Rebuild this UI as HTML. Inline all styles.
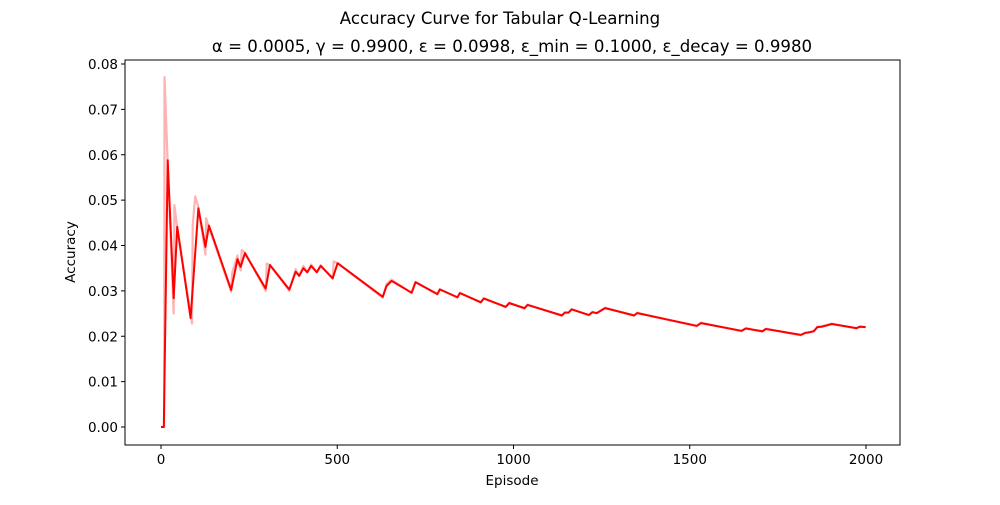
<!DOCTYPE html>
<html><head><meta charset="utf-8">
<style>
body{margin:0;background:#fff;}
svg text{font-family:"DejaVu Sans","Liberation Sans",sans-serif;fill:#000;}
</style></head>
<body>
<svg id="chart" width="1000" height="500" xmlns="http://www.w3.org/2000/svg">
<rect width="1000" height="500" fill="#fff"/>
<text x="500" y="24" font-size="16.6" text-anchor="middle">Accuracy Curve for Tabular Q-Learning</text>
<text x="512" y="52" font-size="16.6" text-anchor="middle">α = 0.0005, γ = 0.9900, ε = 0.0998, ε_min = 0.1000, ε_decay = 0.9980</text>
<g id="plot"></g>
<text x="512" y="485" font-size="13.5" text-anchor="middle">Episode</text>
<text transform="translate(75,252) rotate(-90)" font-size="13.5" text-anchor="middle">Accuracy</text>
</svg>
<script>
const smoothEpisodes=[0,8,19,36,46,84,106,126,136,199,217,226,238,297,309,364,382,392,404,415,426,442,453,487,501,629,640,654,711,722,784,791,841,848,907,916,978,988,1031,1040,1137,1146,1156,1165,1214,1224,1236,1260,1342,1351,1520,1532,1647,1659,1706,1716,1815,1827,1841,1852,1862,1874,1889,1903,1973,1983,1999];
const smoothValues=[0,0,0.0588,0.0284,0.0441,0.0240,0.0482,0.0397,0.0444,0.0302,0.0370,0.0353,0.0383,0.0305,0.0357,0.0303,0.0342,0.0333,0.0350,0.0341,0.0355,0.0341,0.0355,0.0328,0.0361,0.0287,0.0311,0.0322,0.0296,0.0319,0.0293,0.0303,0.0286,0.0295,0.0275,0.0283,0.0265,0.0273,0.0262,0.0269,0.0246,0.0252,0.0252,0.0259,0.0247,0.0253,0.0251,0.0262,0.0246,0.0251,0.0223,0.0229,0.0212,0.0217,0.0211,0.0216,0.0203,0.0207,0.0209,0.0211,0.0220,0.0221,0.0224,0.0227,0.0218,0.0221,0.0220];
const rawEpisodes=[0,9,10,19,36,38,46,88,90,97,106,126,128,136,199,202,217,220,226,229,238,297,300,309,364,382,392,404,415,426,442,453,487,490,501,629,640,654,711,722,784,791,841,848,907,916,978,988,1031,1040,1137,1146,1156,1165,1214,1224,1236,1260,1342,1351,1520,1532,1647,1659,1706,1716,1815,1827,1841,1852,1862,1874,1889,1903,1973,1983,1999];
const rawValues=[0,0,0.0771,0.0580,0.0250,0.0489,0.0440,0.0228,0.0445,0.0508,0.0485,0.0380,0.0460,0.0440,0.0298,0.0340,0.0378,0.0360,0.0345,0.0390,0.0385,0.0300,0.0360,0.0357,0.0300,0.0348,0.0333,0.0355,0.0341,0.0358,0.0341,0.0357,0.0326,0.0365,0.0361,0.0285,0.0315,0.0325,0.0295,0.0320,0.0292,0.0304,0.0285,0.0296,0.0274,0.0284,0.0264,0.0274,0.0261,0.0270,0.0245,0.0253,0.0252,0.0260,0.0246,0.0254,0.0251,0.0263,0.0245,0.0252,0.0222,0.0230,0.0211,0.0218,0.0210,0.0217,0.0202,0.0208,0.0209,0.0212,0.0221,0.0222,0.0225,0.0228,0.0217,0.0222,0.0220];
const xTicks=[0,500,1000,1500,2000];
const yTicks=[0,0.01,0.02,0.03,0.04,0.05,0.06,0.07,0.08];
const yTickLabels=["0.00","0.01","0.02","0.03","0.04","0.05","0.06","0.07","0.08"];

const L=125,R=900,T=60,B=445;
const xs=v=>161+v*0.3525;
const ys=v=>427-v*4537.5;
const NS='http://www.w3.org/2000/svg';
const g=document.getElementById('plot');
function mk(tag,attrs){const e=document.createElementNS(NS,tag);for(const k in attrs)e.setAttribute(k,attrs[k]);g.appendChild(e);return e;}

function line(ex,vals,color,w,name){
  const d=ex.map((e,i)=>(i?'L':'M')+xs(e).toFixed(2)+','+ys(vals[i]).toFixed(2)).join('');
  const p=mk('path',{d:d,fill:'none',stroke:color,'stroke-width':w,'stroke-linejoin':'round'});
  
  
}
line(rawEpisodes,rawValues,'rgba(255,0,0,0.3)',2.2,'raw-accuracy-line');
line(smoothEpisodes,smoothValues,'#ff0000',2,'smoothed-accuracy-line');

const frame=mk('rect',{x:L,y:T,width:R-L,height:B-T,fill:'none',stroke:'#000','stroke-width':1});



xTicks.forEach((t,i)=>{
  const x=xs(t);
  const tk=mk('line',{x1:x,x2:x,y1:B,y2:B+4,stroke:'#000'});
  
  
  const tx=mk('text',{x:x,y:B+19,'font-size':13.5,'text-anchor':'middle'});
  tx.textContent=String(t);
  
  
});
yTicks.forEach((t,i)=>{
  const y=ys(t);
  const tk=mk('line',{x1:L-4,x2:L,y1:y,y2:y,stroke:'#000'});
  
  
  const tx=mk('text',{x:L-7,y:y+5,'font-size':13.5,'text-anchor':'end'});
  tx.textContent=yTickLabels[i];
  
  
});
</script>
</body></html>
